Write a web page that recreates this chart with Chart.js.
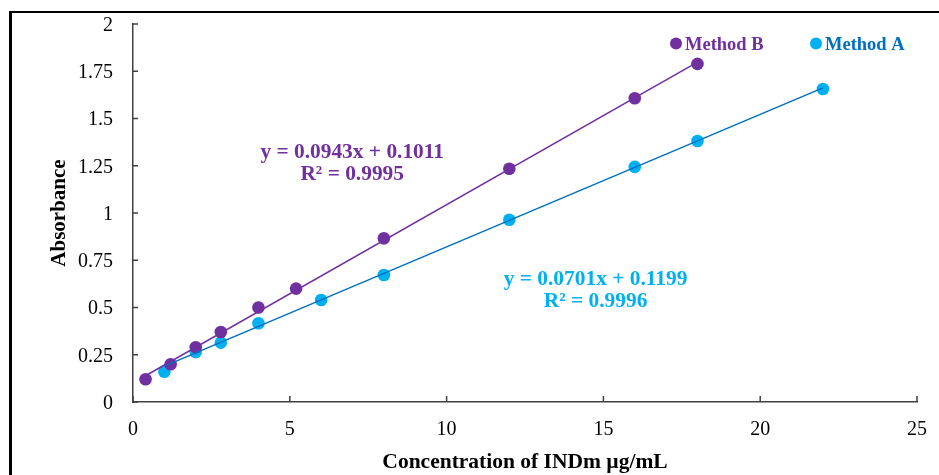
<!DOCTYPE html>
<html>
<head>
<meta charset="utf-8">
<script src="https://cdn.jsdelivr.net/npm/chart.js@4"></script>
<style>
  html, body { margin: 0; padding: 0; background: #fff; overflow: hidden; }
  #frame { position: absolute; left: 9px; top: 11px; width: 1000px; height: 1000px;
           border-left: 3px solid #000; border-top: 2px solid #000; }
  #wrap { position: absolute; left: 0; top: 0; width: 939px; height: 475px; }
</style>
</head>
<body>
<div id="frame"></div>
<div id="wrap"><canvas id="c" width="939" height="475"></canvas></div>
<script>
// ---- data ----
const methodBX = [0.4, 1.2, 2, 2.8, 4, 5.2, 8, 12, 16, 18];
const methodBY = [0.12, 0.2, 0.29, 0.37, 0.5, 0.6, 0.866, 1.234, 1.607, 1.789];
const methodAX = [1, 2, 2.8, 4, 6, 8, 12, 16, 18, 22];
const methodAY = [0.16, 0.264, 0.314, 0.417, 0.54, 0.672, 0.964, 1.244, 1.381, 1.656];

// trendline coefficients as printed on the chart
const fitB = { slope: 0.0943, intercept: 0.1011, r2: '0.9995' };
const fitA = { slope: 0.0701, intercept: 0.1199, r2: '0.9996' };

const xTicks = [0, 5, 10, 15, 20, 25];
const xTickLabels = ['0', '5', '10', '15', '20', '25'];
const yTicks = [0, 0.25, 0.5, 0.75, 1, 1.25, 1.5, 1.75, 2];
const yTickLabels = ['0', '0.25', '0.5', '0.75', '1', '1.25', '1.5', '1.75', '2'];

const seriesNames = ['Method B', 'Method A'];
const xTitle = 'Concentration of INDm µg/mL';
const yTitle = 'Absorbance';

// ---- styles ----
const PURPLE = '#7030A0';
const CYAN = '#00B0F0';
const BLUE = '#0070C0';
const AXIS = '#404040';
const FONT = "'Liberation Serif', 'Times New Roman', serif";

const toPts = (xs, ys) => xs.map((x, i) => ({ x: x, y: ys[i] }));
const fitLine = (xs, f) => {
  const x0 = Math.min(...xs), x1 = Math.max(...xs);
  return [{ x: x0, y: f.slope * x0 + f.intercept }, { x: x1, y: f.slope * x1 + f.intercept }];
};
const fmt = (n) => n.toFixed(4);

const annotations = [
  { lines: ['y = ' + fmt(fitB.slope) + 'x + ' + fmt(fitB.intercept), 'R² = ' + fitB.r2],
    x: 6.99, y: 1.289, color: PURPLE },
  { lines: ['y = ' + fmt(fitA.slope) + 'x + ' + fmt(fitA.intercept), 'R² = ' + fitA.r2],
    x: 14.75, y: 0.619, color: CYAN }
];

const legendItems = [
  { text: seriesNames[0], dot: PURPLE, color: PURPLE, x: 676 },
  { text: seriesNames[1], dot: CYAN, color: BLUE, x: 816 }
];

const extras = {
  id: 'extras',
  afterDatasetsDraw(chart) {
    const ctx = chart.ctx;
    const xs = chart.scales.x, ys = chart.scales.y;
    const ca = chart.chartArea;
    ctx.save();
    // inside tick marks
    ctx.strokeStyle = AXIS;
    ctx.lineWidth = 1.5;
    ctx.beginPath();
    xTicks.forEach(v => {
      const px = xs.getPixelForValue(v);
      ctx.moveTo(px, ca.bottom);
      ctx.lineTo(px, ca.bottom - 6);
    });
    yTicks.forEach(v => {
      const py = ys.getPixelForValue(v);
      ctx.moveTo(ca.left, py);
      ctx.lineTo(ca.left + 5, py);
    });
    ctx.stroke();

    // equations
    ctx.font = 'bold 21.4px ' + FONT;
    ctx.textAlign = 'center';
    ctx.textBaseline = 'alphabetic';
    annotations.forEach(a => {
      ctx.fillStyle = a.color;
      const px = xs.getPixelForValue(a.x), py = ys.getPixelForValue(a.y);
      a.lines.forEach((t, i) => ctx.fillText(t, px, py + i * 22));
    });

    // legend
    ctx.font = 'bold 18.5px ' + FONT;
    ctx.textAlign = 'left';
    legendItems.forEach(l => {
      ctx.fillStyle = l.dot;
      ctx.beginPath();
      ctx.arc(l.x, 43.5, 6, 0, Math.PI * 2);
      ctx.fill();
      ctx.fillStyle = l.color;
      ctx.fillText(l.text, l.x + 9, 49.5);
    });
    ctx.restore();
  }
};

new Chart(document.getElementById('c'), {
  type: 'scatter',
  data: {
    datasets: [
      { label: seriesNames[0] + ' fit', data: fitLine(methodBX, fitB), showLine: true,
        borderColor: PURPLE, borderWidth: 1.5, pointRadius: 0, order: 0 },
      { label: seriesNames[1] + ' fit', data: fitLine(methodAX, fitA), showLine: true,
        borderColor: BLUE, borderWidth: 1.5, pointRadius: 0, order: 0 },
      { label: seriesNames[0], data: toPts(methodBX, methodBY), backgroundColor: PURPLE,
        borderColor: PURPLE, pointRadius: 6.3, pointBorderWidth: 0, order: 1 },
      { label: seriesNames[1], data: toPts(methodAX, methodAY), backgroundColor: CYAN,
        borderColor: CYAN, pointRadius: 6.3, pointBorderWidth: 0, order: 1 }
    ]
  },
  options: {
    responsive: false,
    animation: false,
    events: [],
    layout: { padding: { left: 0, top: 24, right: 22, bottom: 0 } },
    plugins: { legend: { display: false }, tooltip: { enabled: false } },
    scales: {
      x: {
        type: 'linear', min: 0, max: 25,
        afterBuildTicks: s => { s.ticks = xTicks.map(v => ({ value: v })); },
        afterFit: s => { s.height = 73; s.paddingLeft = 0; s.paddingRight = 0; },
        ticks: { padding: 16, color: '#000', font: { family: FONT, size: 20 },
                 maxRotation: 0, callback: (v) => xTickLabels[xTicks.indexOf(v)] },
        grid: { display: false, drawTicks: false },
        border: { display: true, color: AXIS, width: 1.5 },
        title: { display: true, text: xTitle, color: '#000',
                 font: { family: FONT, size: 21.5, weight: 'bold' }, padding: { top: 4, bottom: 0 } }
      },
      y: {
        type: 'linear', min: 0, max: 2,
        afterBuildTicks: s => { s.ticks = yTicks.map(v => ({ value: v })); },
        afterFit: s => { s.width = 133; s.paddingTop = 0; s.paddingBottom = 0; },
        ticks: { padding: 20, labelOffset: 1.5, color: '#000', font: { family: FONT, size: 20 },
                 callback: (v) => yTickLabels[yTicks.indexOf(v)] },
        grid: { display: false, drawTicks: false },
        border: { display: true, color: AXIS, width: 1.5 },
        title: { display: true, text: yTitle, color: '#000',
                 font: { family: FONT, size: 21, weight: 'bold' }, padding: { top: 47, bottom: 0 } }
      }
    }
  },
  plugins: [extras]
});
</script>
</body>
</html>
